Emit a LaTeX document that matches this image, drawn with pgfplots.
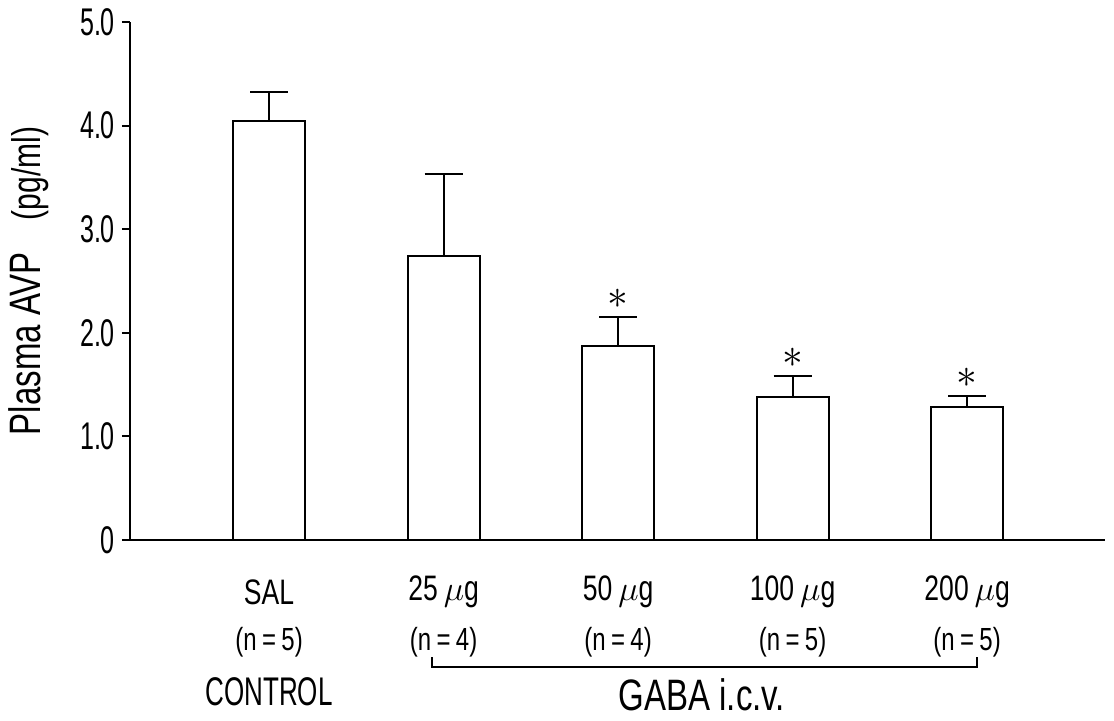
\documentclass[border=0pt]{standalone}
\usepackage{pgfplots}
\pgfplotsset{compat=1.18}
\usepackage{fontspec}
\setmainfont{Liberation Sans}[FakeStretch=0.65]
\newfontfamily\wide{Liberation Sans}[FakeStretch=0.75]
\begin{document}
\begin{tikzpicture}
\path[use as bounding box] (-65pt,-90pt) rectangle (492pt,270pt);
\begin{axis}[
  at={(0pt,0pt)}, anchor=south west,
  scale only axis, width=487.5pt, height=259pt,
  xmin=-0.797, xmax=4.79, ymin=0, ymax=5,
  axis x line=bottom, axis y line=left,
  axis line style={-, line width=1.1pt, black},
  ytick={0,1,2,3,4,5},
  yticklabels={0,1.0,2.0,3.0,4.0,5.0},
  yticklabel style={font=\fontsize{19.3}{20}\selectfont},
  ytick style={line width=1pt, black},
  tick align=outside, major tick length=4pt,
  xtick={0,1,2,3,4},
  xticklabels={SAL, 25\,$\mu$g, 50\,$\mu$g, 100\,$\mu$g, 200\,$\mu$g},
  xtick style={draw=none},
  xticklabel style={anchor=center, yshift=-22pt, font=\wide\fontsize{17.7}{18}\selectfont},
  clip=false,
]
\addplot[ybar, bar width=36pt, fill=white, draw=black, line width=1pt,
  error bars/.cd, y dir=plus, y explicit,
  error bar style={line width=1pt, black},
  error mark options={rotate=90, mark size=9.5pt, line width=1pt, black}]
 table[x=x, y=y, y error=e] {
 x y e
 0 4.04 0.28
 1 2.74 0.79
 2 1.87 0.28
 3 1.38 0.20
 4 1.28 0.11
 };
\node[font=\fontsize{20}{20}\selectfont] at ([yshift=9pt]axis cs:2,2.15) {$\ast$};
\node[font=\fontsize{20}{20}\selectfont] at ([yshift=9pt]axis cs:3,1.58) {$\ast$};
\node[font=\fontsize{20}{20}\selectfont] at ([yshift=9pt]axis cs:4,1.39) {$\ast$};
\node[font=\wide\fontsize{16}{16}\selectfont] at ([yshift=-51pt]axis cs:0,0) {(n\,=\,5)};
\node[font=\wide\fontsize{16}{16}\selectfont] at ([yshift=-51pt]axis cs:1,0) {(n\,=\,4)};
\node[font=\wide\fontsize{16}{16}\selectfont] at ([yshift=-51pt]axis cs:2,0) {(n\,=\,4)};
\node[font=\wide\fontsize{16}{16}\selectfont] at ([yshift=-51pt]axis cs:3,0) {(n\,=\,5)};
\node[font=\wide\fontsize{16}{16}\selectfont] at ([yshift=-51pt]axis cs:4,0) {(n\,=\,5)};
\node[font=\fontsize{20}{20}\selectfont] at ([yshift=-76pt]axis cs:0,0) {CONTROL};
\node[font=\wide\fontsize{22}{22}\selectfont] at ([yshift=-77.5pt]axis cs:2.48,0) {GABA i.c.v.};
\draw[line width=1pt] ([yshift=-58.5pt]axis cs:0.934,0) -- ([yshift=-63.5pt]axis cs:0.934,0)
  -- ([yshift=-63.5pt]axis cs:4.057,0) -- ([yshift=-58.5pt]axis cs:4.057,0);
\node[rotate=90] at ([xshift=-50.5pt]rel axis cs:0,0.5)
  {{\wide\fontsize{22}{22}\selectfont Plasma AVP}\hspace{16pt}{\wide\fontsize{20}{20}\selectfont (pg/ml)}};
\end{axis}
\end{tikzpicture}
\end{document}
